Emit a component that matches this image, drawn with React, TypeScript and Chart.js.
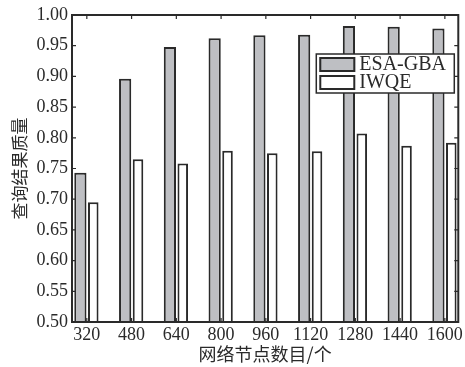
import React, { useEffect, useRef } from "react";
import { Chart, registerables } from "chart.js";

Chart.register(...registerables);

const categories = [320, 480, 640, 800, 960, 1120, 1280, 1440, 1600];
const esaGba = [0.743, 0.896, 0.948, 0.962, 0.967, 0.968, 0.982, 0.981, 0.978];
const iwqe = [0.695, 0.765, 0.758, 0.779, 0.775, 0.778, 0.807, 0.787, 0.792];
const yTicks = [0.5, 0.55, 0.6, 0.65, 0.7, 0.75, 0.8, 0.85, 0.9, 0.95, 1.0];
const seriesNames = ["ESA-GBA", "IWQE"];
const xTitle = "网络节点数目/个";
const yTitle = "查询结果质量";

const INK = "#2a2a2a";
const GRAY = "#bebfc3";
const SERIF = "'Liberation Serif', 'DejaVu Serif', serif";
const CJK = "'Noto Sans CJK SC', sans-serif";

const framePlugin = {
  id: "frame",
  afterDatasetsDraw(chart: any) {
    const { ctx, chartArea } = chart;
    const { left, right, top, bottom } = chartArea;
    const xs = chart.scales.x;
    const ys = chart.scales.y;
    const t = 4;
    ctx.save();
    ctx.strokeStyle = INK;
    ctx.lineWidth = 1.2;
    ctx.beginPath();
    yTicks.forEach((v) => {
      const y = ys.getPixelForValue(v);
      ctx.moveTo(left, y);
      ctx.lineTo(left + t, y);
      ctx.moveTo(right, y);
      ctx.lineTo(right - t, y);
    });
    categories.forEach((c) => {
      const x = xs.getPixelForValue(c);
      ctx.moveTo(x, top);
      ctx.lineTo(x, top + t);
      ctx.moveTo(x, bottom);
      ctx.lineTo(x, bottom - t);
    });
    ctx.stroke();
    ctx.lineWidth = 2;
    ctx.strokeRect(left, top, right - left, bottom - top);

    // legend
    const bw = 138;
    const bh = 39;
    const bx = right - 4 - bw;
    const by = top + 39;
    ctx.fillStyle = "#ffffff";
    ctx.fillRect(bx, by, bw, bh);
    ctx.lineWidth = 1.5;
    ctx.strokeRect(bx, by, bw, bh);
    const fills = [GRAY, "#ffffff"];
    ctx.font = "20px " + SERIF;
    ctx.textBaseline = "middle";
    seriesNames.forEach((name, i) => {
      const sy = by + 3 + i * 18;
      ctx.fillStyle = fills[i];
      ctx.fillRect(bx + 3, sy, 36, 15);
      ctx.lineWidth = 2;
      ctx.strokeStyle = INK;
      ctx.strokeRect(bx + 4, sy + 1, 34, 13);
      ctx.fillStyle = INK;
      ctx.fillText(name, bx + 43, sy + 8);
    });
    ctx.restore();
  },
};

export default function App() {
  const ref = useRef<HTMLCanvasElement>(null);
  useEffect(() => {
    document.body.style.margin = "0";
    const chart = new Chart(ref.current!, {
      type: "bar",
      data: {
        datasets: [
          {
            label: seriesNames[0],
            data: categories.map((c, i) => ({ x: c, y: esaGba[i] })),
            backgroundColor: GRAY,
            borderColor: INK,
            borderWidth: 2,
            barPercentage: 0.95,
            categoryPercentage: 0.575,
          },
          {
            label: seriesNames[1],
            data: categories.map((c, i) => ({ x: c, y: iwqe[i] })),
            backgroundColor: "#ffffff",
            borderColor: INK,
            borderWidth: 2,
            barPercentage: 0.82,
            categoryPercentage: 0.575,
          },
        ],
      },
      options: {
        responsive: false,
        animation: false,
        layout: { padding: { top: 15, right: 4, left: 0, bottom: 0 } },
        plugins: { legend: { display: false }, tooltip: { enabled: false } },
        scales: {
          x: {
            type: "linear",
            min: 267,
            max: 1648,
            offset: false,
            grid: { display: false, drawTicks: false, offset: false },
            border: { display: false },
            afterBuildTicks: (s: any) => {
              s.ticks = categories.map((v) => ({ value: v }));
            },
            afterFit: (s: any) => {
              s.height = 45;
            },
            ticks: {
              autoSkip: false,
              maxRotation: 0,
              padding: 2,
              color: INK,
              font: { family: SERIF, size: 18 },
              callback: (v: any) => String(v),
            },
            title: {
              display: true,
              text: xTitle,
              color: INK,
              font: { family: CJK, size: 18 },
              padding: { top: 0, bottom: 2 },
            },
          },
          y: {
            min: 0.5,
            max: 1.0,
            grid: { display: false, drawTicks: false },
            border: { display: false },
            afterBuildTicks: (s: any) => {
              s.ticks = yTicks.map((v) => ({ value: v }));
            },
            afterFit: (s: any) => {
              s.width = 72;
            },
            ticks: {
              padding: 4,
              color: INK,
              font: { family: SERIF, size: 18 },
              callback: (v: any) => Number(v).toFixed(2),
            },
            title: {
              display: true,
              text: yTitle,
              color: INK,
              font: { family: CJK, size: 17 },
              padding: { top: 9, bottom: 0 },
            },
          },
        },
      },
      plugins: [framePlugin],
    });
    return () => chart.destroy();
  }, []);
  return (
    <div style={{ width: 465, height: 367, background: "#fff" }}>
      <canvas ref={ref} width={465} height={367} />
    </div>
  );
}
